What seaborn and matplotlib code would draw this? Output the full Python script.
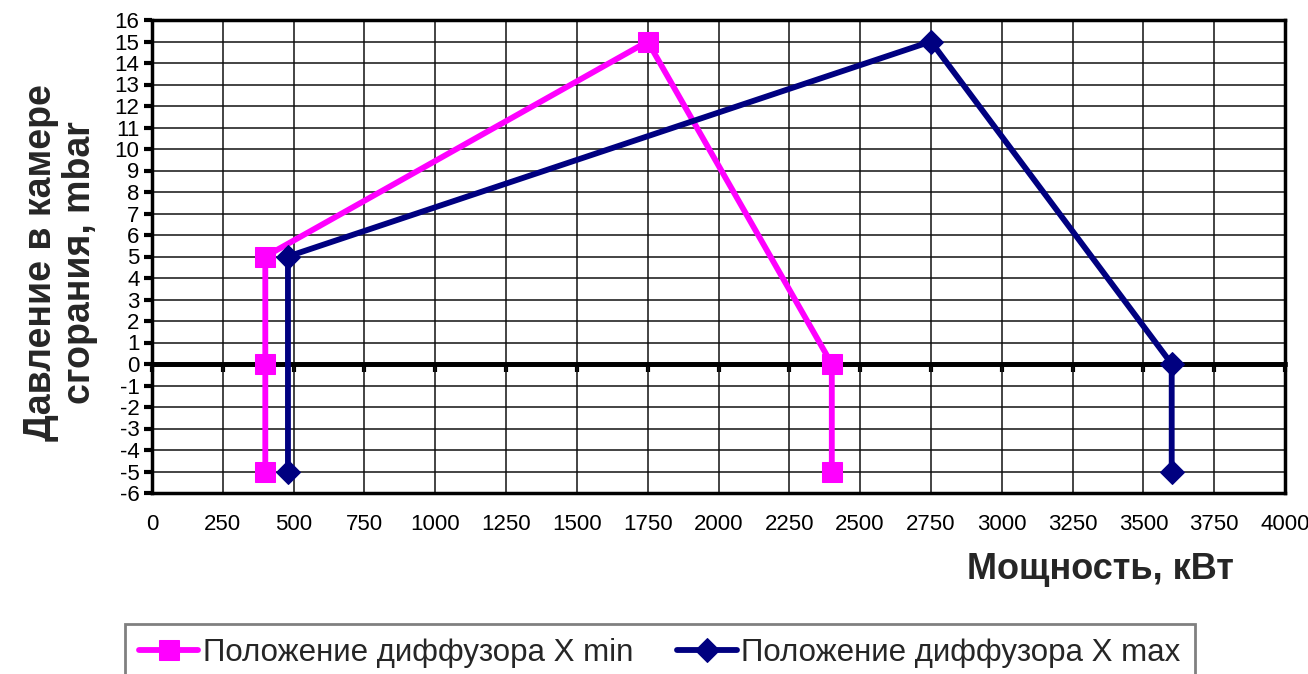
import matplotlib
matplotlib.use("Agg")
import matplotlib.pyplot as plt
import seaborn as sns
import pandas as pd
import numpy as np

# ---- data ----
min_x = [400, 400, 400, 1750, 2400, 2400]
min_y = [-5, 0, 5, 15, 0, -5]
max_x = [480, 480, 2750, 3600, 3600]
max_y = [-5, 5, 15, 0, -5]
label_min = "Положение диффузора X min"
label_max = "Положение диффузора X max"
x_ticks = list(range(0, 4001, 250))
y_ticks = list(range(-6, 17, 1))
x_label = "Мощность, кВт"
y_label = "Давление в камере\nсгорания, mbar"

sns.set_style("white")
plt.rcParams["font.family"] = ["Liberation Sans", "DejaVu Sans"]

fig = plt.figure(figsize=(13.08, 6.74), dpi=100)
ax = fig.add_axes([152 / 1308, 1 - 493 / 674, 1133 / 1308, 473 / 674])

df_min = pd.DataFrame({"x": min_x, "y": min_y})
df_max = pd.DataFrame({"x": max_x, "y": max_y})

sns.lineplot(data=df_min, x="x", y="y", sort=False, estimator=None, ax=ax,
             color="#FF00FF", linewidth=4.2, marker="s", markersize=14,
             markeredgecolor="#FF00FF", label=label_min, zorder=5, legend=False)
sns.lineplot(data=df_max, x="x", y="y", sort=False, estimator=None, ax=ax,
             color="#000080", linewidth=4.2, marker="D", markersize=12,
             markeredgecolor="#000080", label=label_max, zorder=6, legend=False)

ax.set_xlim(0, 4000)
ax.set_ylim(-6, 16)
ax.set_xticks(x_ticks)
ax.set_yticks(y_ticks)
ax.set_xticklabels([str(v) for v in x_ticks])
ax.set_yticklabels([str(v) for v in y_ticks])

ax.grid(True, color="#111111", lw=1.1, zorder=1)
ax.set_axisbelow(True)
for s in ax.spines.values():
    s.set_linewidth(2.5)
    s.set_color("black")
    s.set_visible(True)

ax.tick_params(axis="y", direction="out", length=6, width=3, pad=3,
               labelsize=16, colors="black", left=True)
ax.tick_params(axis="x", length=0, pad=15, labelsize=16, colors="black")

# zero line with its own ticks
ax.axhline(0, color="black", lw=3.5, zorder=3)
sec = ax.secondary_xaxis(6 / 22)
sec.set_xticks(x_ticks)
sec.set_xticklabels([])
sec.tick_params(direction="out", length=6, width=3, colors="black")
sec.spines["bottom"].set_linewidth(3.5)

ax.set_xlabel(x_label, fontsize=26, fontweight="bold")
ax.xaxis.set_label_coords((1100 - 152) / 1133, (493 - 552) / 473)
ax.set_ylabel(y_label, fontsize=27, fontweight="bold", linespacing=1.1)
ax.yaxis.set_label_coords((98 - 152) / 1133, (493 - 263) / 473)

handles, labels = ax.get_legend_handles_labels()
leg = fig.legend(handles, labels, loc="upper left",
                 bbox_to_anchor=(125 / 1308, 1 - 624 / 674),
                 ncol=2, fontsize=22.5, frameon=True, fancybox=False,
                 edgecolor="#808080", framealpha=1, borderaxespad=0,
                 handlelength=1.9, handletextpad=0.15, columnspacing=1.4,
                 borderpad=0.45, numpoints=1)
leg.get_frame().set_linewidth(2)

fig.savefig("out.png", dpi=100)
